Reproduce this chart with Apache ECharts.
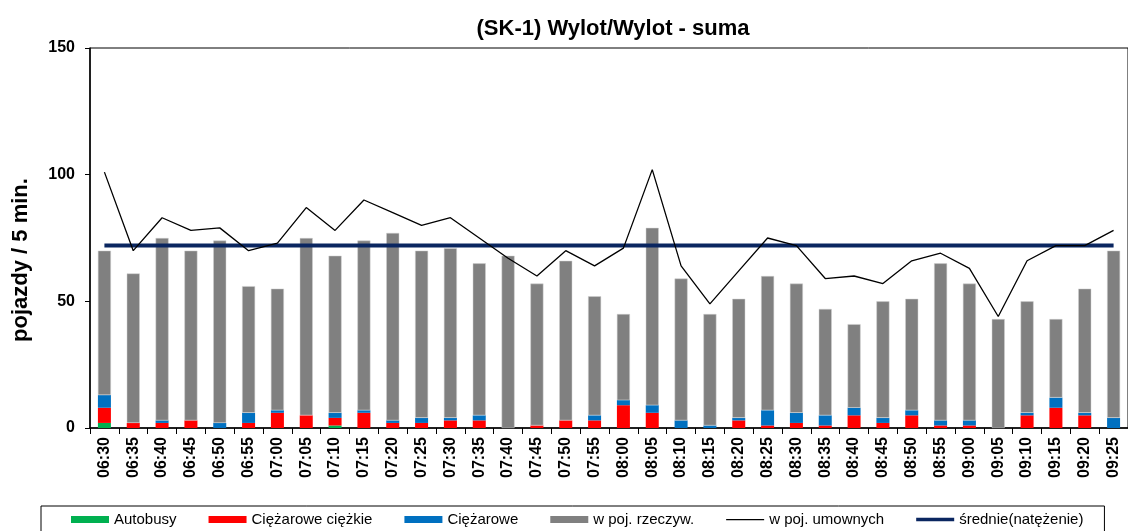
<!DOCTYPE html>
<html>
<head>
<meta charset="utf-8">
<title>(SK-1) Wylot/Wylot - suma</title>
<script src="https://cdn.jsdelivr.net/npm/echarts@6/dist/echarts.min.js"></script>
<style>
  html, body { margin: 0; padding: 0; background: #fff; }
  #analytic-chart { width: 1128px; height: 531px; }
</style>
</head>
<body>
<div id="analytic-chart"></div>
<script>
// Chart data (vehicles per 5 min)
var categories = ['06:30','06:35','06:40','06:45','06:50','06:55','07:00','07:05','07:10','07:15',
  '07:20','07:25','07:30','07:35','07:40','07:45','07:50','07:55','08:00','08:05',
  '08:10','08:15','08:20','08:25','08:30','08:35','08:40','08:45','08:50','08:55',
  '09:00','09:05','09:10','09:15','09:20','09:25'];

var autobusy = [2,0,0,0,0,0,0,0,1,0, 0,0,0,0,0,0,0,0,0,0, 0,0,0,0,0,0,0,0,0,0, 0,0,0,0,0,0];
var ciezaroweCiezkie = [6,2,2,3,0,2,6,5,3,6, 2,2,3,3,0,1,3,3,9,6, 0,0,3,1,2,1,5,2,5,1, 1,0,5,8,5,0];
var ciezarowe = [5,0,1,0,2,4,1,0,2,1, 1,2,1,2,0,0,0,2,2,3, 3,1,1,6,4,4,3,2,2,2, 2,0,1,4,1,4];
var rzeczyw = [57,59,72,67,72,50,48,70,62,67, 74,66,67,60,68,56,63,47,34,70, 56,44,47,53,51,42,33,46,44,62, 54,43,44,31,49,66];
var umownych = [101,70,83,78,79,70,73,87,78,90, 85,80,83,75,67,60,70,64,71,102, 64,49,62,75,72,59,60,57,66,69, 63,44,66,72,72,78];
var srednie = 72;

var yTicks = { min: 0, max: 150, interval: 50 };

var chartDom = document.getElementById('analytic-chart');
var myChart = echarts.init(chartDom);
var option;

var boldFont = 'Liberation Sans, Arial, sans-serif';

// thin line legend icons (the empty corner points keep the box 38x7 so the line is not stretched)
var thinLineIcon = 'path://M0,0L0,7L0,7Z M0,2.9L38,2.9L38,4.2L0,4.2Z M38,0L38,7L38,7Z';
var thickLineIcon = 'path://M0,0L0,7L0,7Z M0,1.8L38,1.8L38,5.2L0,5.2Z M38,0L38,7L38,7Z';

option = {
  animation: false,
  backgroundColor: '#fff',
  title: {
    text: '(SK-1) Wylot/Wylot - suma',
    left: 608,
    top: 13,
    textAlign: 'center',
    textStyle: { fontFamily: boldFont, fontWeight: 'bold', fontSize: 22, color: '#000' }
  },
  legend: {
    left: 41,
    top: 506,
    padding: [6, 21, 8, 30],
    borderColor: '#000',
    borderWidth: 1,
    itemWidth: 38,
    itemHeight: 7,
    itemGap: 32,
    itemStyle: { borderWidth: 0 },
    textStyle: { fontFamily: boldFont, fontSize: 15, color: '#000' },
    data: [
      { name: 'Autobusy', icon: 'rect' },
      { name: 'Ciężarowe ciężkie', icon: 'rect' },
      { name: 'Ciężarowe', icon: 'rect' },
      { name: 'w poj. rzeczyw.', icon: 'rect', itemStyle: { borderWidth: 0 } },
      { name: 'w poj. umownych', icon: thinLineIcon },
      { name: 'średnie(natężenie)', icon: thickLineIcon }
    ]
  },
  grid: {
    left: 90,
    right: -7,
    top: 48,
    bottom: 103,
    show: true,
    borderColor: '#000',
    borderWidth: 1
  },
  xAxis: {
    type: 'category',
    data: categories,
    boundaryGap: true,
    axisLine: { lineStyle: { color: '#000', width: 1.5 } },
    axisTick: { show: true, length: 6, lineStyle: { color: '#000' } },
    axisLabel: {
      interval: 0,
      rotate: 90,
      margin: 9,
      color: '#000',
      fontFamily: boldFont,
      fontWeight: 'bold',
      fontSize: 16
    }
  },
  yAxis: {
    type: 'value',
    min: yTicks.min,
    max: yTicks.max,
    interval: yTicks.interval,
    name: 'pojazdy / 5 min.',
    nameLocation: 'middle',
    nameGap: 58,
    nameTextStyle: {
      fontFamily: boldFont, fontWeight: 'bold', fontSize: 22, color: '#000',
      padding: [0, 44, 0, 0]
    },
    splitLine: { show: false },
    axisLine: { show: true, lineStyle: { color: '#000', width: 1.5 } },
    axisTick: { show: true, length: 5, lineStyle: { color: '#000' } },
    axisLabel: {
      margin: 15,
      color: '#000',
      fontFamily: boldFont,
      fontWeight: 'bold',
      fontSize: 16
    }
  },
  series: [
    {
      name: 'Autobusy', type: 'bar', stack: 'suma', barWidth: 13,
      itemStyle: { color: '#00b050' }, data: autobusy
    },
    {
      name: 'Ciężarowe ciężkie', type: 'bar', stack: 'suma', barWidth: 13,
      itemStyle: { color: '#ff0000' }, data: ciezaroweCiezkie
    },
    {
      name: 'Ciężarowe', type: 'bar', stack: 'suma', barWidth: 13,
      itemStyle: { color: '#0070c0' }, data: ciezarowe
    },
    {
      name: 'w poj. rzeczyw.', type: 'bar', stack: 'suma', barWidth: 13,
      itemStyle: { color: '#808080', borderColor: '#d0d0d0', borderWidth: 0.5 }, data: rzeczyw
    },
    {
      name: 'w poj. umownych', type: 'line', symbol: 'none', z: 5,
      lineStyle: { color: '#000', width: 1.3 },
      itemStyle: { color: '#000' },
      data: umownych
    },
    {
      name: 'średnie(natężenie)', type: 'line', symbol: 'none', z: 4,
      lineStyle: { color: '#0a2660', width: 4 },
      itemStyle: { color: '#0a2660' },
      data: categories.map(function () { return srednie; })
    }
  ]
};

option && myChart.setOption(option);
</script>
</body>
</html>
